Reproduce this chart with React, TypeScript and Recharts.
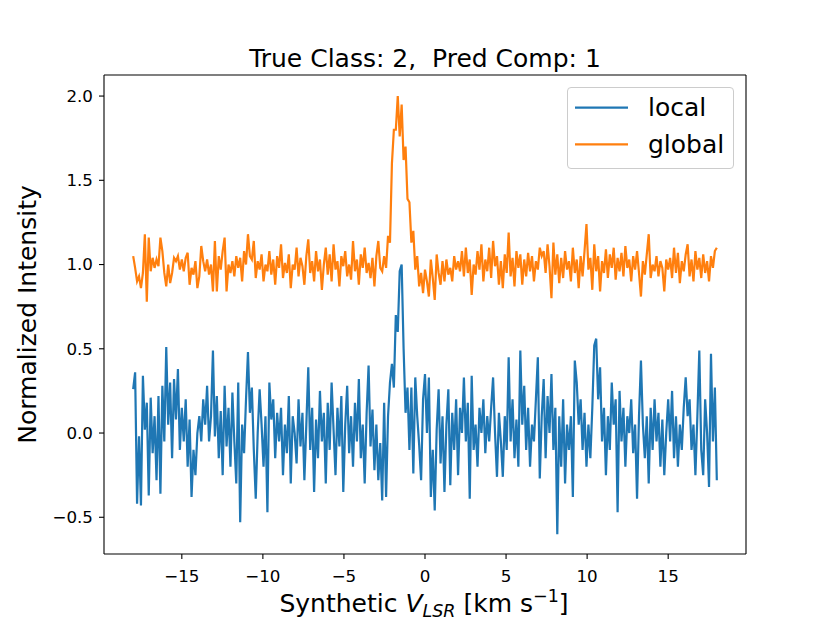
import React from "react";
import { LineChart, Line, XAxis, YAxis, Legend, ReferenceLine } from "recharts";

// channel grid of the synthetic spectrum (km/s)
const VLSR_START = -18;
const CHANNEL_WIDTH = 0.12;

// "local" spectrum (one row = 25 channels = 3 km/s)
const LOCAL = [
  0.26, 0.36, -0.42, -0.02, -0.43, 0.34, 0.02, 0.18, -0.37, 0.21, -0.12, 0.1, -0.28, 0.22, -0.36, 0.28, -0.05, 0.51, 0.05, 0.3, -0.15, 0.32, 0.08, 0.38, -0.1,
  0.15, -0.05, 0.2, -0.2, 0.08, -0.38, -0.1, -0.25, 0.0, 0.1, -0.05, 0.2, 0.05, 0.28, -0.05, 0.1, 0.49, -0.02, 0.22, -0.15, 0.13, -0.25, 0.28, -0.08, 0.15,
  -0.2, 0.24, -0.05, -0.3, 0.3, -0.53, 0.05, -0.12, 0.2, 0.48, 0.12, 0.27, -0.1, -0.39, 0.0, 0.26, 0.05, -0.2, 0.1, -0.47, 0.3, 0.08, 0.2, -0.15, 0.12,
  -0.05, 0.15, -0.25, 0.05, -0.12, 0.22, -0.3, 0.1, 0.0, -0.18, 0.2, -0.08, 0.12, -0.28, 0.05, 0.39, -0.1, 0.15, -0.35, 0.08, -0.15, 0.25, -0.05, 0.12, -0.3,
  0.18, -0.1, 0.3, 0.02, -0.25, 0.15, -0.08, 0.22, -0.35, 0.05, 0.28, -0.12, 0.1, -0.2, 0.18, -0.05, 0.32, -0.15, 0.05, -0.3, 0.12, 0.4, -0.08, 0.14, -0.22,
  0.05, -0.28, -0.06, -0.4, 0.18, -0.38, 0.1, 0.3, 0.41, 0.27, 0.7, 0.6, 0.96, 1.0, 0.5, 0.12, 0.27, -0.1, 0.27, -0.24, 0.33, 0.1, -0.07, -0.28, 0.2,
  0.35, 0.0, 0.33, -0.38, -0.1, -0.46, 0.02, 0.26, -0.18, 0.1, -0.35, 0.05, 0.26, -0.31, 0.12, -0.1, 0.2, -0.25, 0.15, 0.0, 0.33, -0.05, 0.18, -0.39, 0.34,
  -0.1, 0.05, -0.2, 0.15, 0.0, 0.2, -0.12, 0.1, -0.05, 0.15, 0.33, 0.0, -0.26, 0.12, -0.05, -0.26, 0.1, -0.1, 0.45, -0.05, 0.2, -0.15, 0.08, -0.2, 0.49,
  0.05, 0.28, -0.1, 0.15, -0.2, 0.05, -0.05, 0.2, 0.45, -0.27, 0.1, 0.32, -0.15, 0.22, 0.0, 0.35, -0.1, 0.15, -0.6, 0.1, -0.2, 0.2, -0.3, 0.05, -0.1,
  0.1, -0.38, 0.43, 0.3, 0.05, 0.2, -0.1, 0.12, -0.2, 0.05, -0.15, 0.15, 0.52, 0.56, 0.2, 0.39, -0.05, 0.15, -0.25, 0.1, -0.1, 0.3, 0.05, 0.2, -0.47,
  0.25, -0.05, 0.15, -0.2, 0.1, 0.0, 0.2, -0.12, 0.05, -0.39, 0.1, 0.43, 0.05, -0.15, 0.1, -0.3, 0.15, -0.1, 0.2, -0.05, 0.12, -0.2, 0.08, -0.25, 0.0,
  0.2, -0.05, 0.25, -0.15, 0.1, -0.2, 0.05, -0.1, 0.15, 0.33, 0.1, 0.2, -0.1, 0.05, -0.25, 0.1, 0.49, -0.1, -0.25, 0.2, 0.0, -0.32, 0.47, -0.05, 0.27,
  -0.28,
];

// "global" spectrum, same channels
const GLOBAL = [
  1.05, 0.98, 0.9, 0.93, 0.86, 0.95, 1.18, 0.78, 1.16, 0.96, 1.04, 0.98, 1.03, 0.99, 1.16, 1.08, 0.95, 0.87, 1.0, 0.89, 0.95, 1.04, 1.02, 1.05, 0.97,
  1.03, 0.96, 1.04, 1.07, 0.88, 0.98, 0.94, 1.02, 0.86, 0.93, 1.11, 1.02, 0.96, 1.03, 0.94, 1.0, 0.84, 1.14, 0.84, 1.05, 0.97, 1.08, 1.16, 0.84, 1.0,
  0.95, 1.02, 0.93, 1.05, 0.98, 1.04, 0.9, 1.08, 1.0, 1.18, 1.05, 1.03, 1.14, 0.92, 1.02, 0.97, 1.06, 0.9, 1.0, 0.96, 1.08, 0.94, 1.03, 0.88, 1.05,
  0.98, 1.12, 0.92, 1.01, 0.95, 1.06, 0.86, 1.0, 0.97, 1.1, 0.93, 1.04, 0.99, 0.88, 1.05, 1.15, 0.95, 1.02, 0.9, 1.08, 0.96, 1.03, 0.85, 1.0, 1.1,
  0.94, 1.06, 0.9, 1.12, 0.97, 1.02, 0.87, 1.05, 0.99, 1.08, 0.93, 1.0, 0.91, 1.14, 0.96, 1.03, 0.88, 1.06, 0.98, 1.1, 0.95, 1.01, 0.92, 1.04, 0.87,
  1.05, 1.14, 0.98, 0.96, 1.05, 0.98, 1.17, 1.13, 1.6, 1.8, 1.8, 2.0, 1.76, 1.95, 1.62, 1.7, 1.39, 1.37, 1.13, 1.2, 0.97, 1.05, 0.87, 0.95, 0.83,
  0.97, 0.9, 0.81, 1.03, 0.92, 0.79, 1.06, 0.95, 0.88, 1.02, 0.9, 1.03, 0.94, 0.98, 0.9, 1.05, 0.97, 1.02, 0.96, 1.08, 0.93, 1.1, 0.95, 1.03, 0.82,
  1.0, 0.94, 1.08, 0.97, 1.12, 0.9, 1.03, 0.96, 1.1, 0.92, 1.14, 0.99, 1.05, 0.88, 1.02, 0.86, 1.06, 0.95, 1.19, 0.93, 1.04, 0.87, 1.08, 0.98, 1.06,
  0.88, 1.03, 0.93, 1.07, 0.96, 1.05, 0.9, 1.02, 0.97, 1.1, 1.05, 1.08, 0.95, 1.12, 0.99, 0.8, 1.13, 0.94, 1.06, 0.89, 1.04, 0.92, 1.08, 0.97, 1.02,
  0.9, 1.1, 0.95, 1.03, 0.86, 1.05, 0.93, 1.08, 1.24, 0.97, 1.04, 0.85, 1.12, 0.96, 1.05, 0.84, 1.02, 0.95, 1.09, 0.92, 1.06, 0.98, 1.1, 0.91, 1.04,
  0.96, 1.07, 0.93, 1.11, 0.98, 1.03, 0.9, 1.05, 0.97, 1.08, 0.95, 0.81, 1.02, 0.94, 1.06, 1.18, 0.92, 1.0, 0.96, 1.05, 0.93, 1.02, 0.98, 0.84, 1.03,
  0.97, 1.04, 0.92, 1.1, 0.95, 1.07, 0.89, 1.02, 0.96, 1.06, 1.12, 0.93, 1.03, 0.9, 1.08, 0.97, 1.04, 0.92, 1.06, 0.95, 1.02, 0.9, 1.05, 0.98, 1.08,
  1.1,
];

const SERIES_ORDER = ["local", "global"];
const X_TICKS = [-15, -10, -5, 0, 5, 10, 15];
const Y_TICKS = [-0.5, 0, 0.5, 1, 1.5, 2];
const X_DOMAIN: [number, number] = [-19.8, 19.8];
const Y_DOMAIN: [number, number] = [-0.718, 2.125];

const TITLE = "True Class: 2,  Pred Comp: 1";
const Y_LABEL = "Normalized Intensity";

const FONT = "DejaVu Sans";

const chartData = LOCAL.map((v, i) => ({
  vlsr: Number((VLSR_START + i * CHANNEL_WIDTH).toFixed(2)),
  local: v,
  global: GLOBAL[i],
}));

// matplotlib style minus sign
const fmt = (v: number, digits: number) =>
  (v < 0 ? "\u2212" : "") + Math.abs(v).toFixed(digits);

const LegendBox = ({ payload }: any) => {
  const items = [...(payload || [])].sort(
    (a: any, b: any) => SERIES_ORDER.indexOf(a.value) - SERIES_ORDER.indexOf(b.value)
  );
  return (
    <div
      style={{
        width: 167,
        height: 82,
        boxSizing: "border-box",
        border: "1px solid #cccccc",
        borderRadius: 4,
        background: "rgba(255,255,255,0.8)",
      }}
    >
      <svg width={165} height={80} style={{ display: "block" }}>
        {items.map((p: any, i: number) => (
          <g key={p.value}>
            <line x1={7} x2={60} y1={19.7 + i * 36.7} y2={19.7 + i * 36.7} stroke={p.color} strokeWidth={2.2} />
            <text x={80} y={28 + i * 36.7} fontSize={25} fontFamily={FONT} fill="#000">
              {p.value}
            </text>
          </g>
        ))}
      </svg>
    </div>
  );
};

const tickStyle = { fill: "#000", fontSize: 16.7, fontFamily: FONT };
const black = { stroke: "#000", strokeWidth: 1.1 };

export default function App() {
  return (
    <div style={{ position: "absolute", left: 0, top: 0, width: 830, height: 623, background: "#fff", fontFamily: FONT }}>
      <LineChart width={830} height={623} data={chartData} margin={{ top: 75, right: 84, left: 0, bottom: 0 }}>
        <XAxis
          dataKey="vlsr"
          type="number"
          domain={X_DOMAIN}
          allowDataOverflow
          ticks={X_TICKS}
          tickFormatter={(v) => fmt(v, 0)}
          tick={tickStyle}
          tickLine={black}
          axisLine={black}
          tickSize={5}
          tickMargin={11}
          height={69}
        />
        <YAxis
          type="number"
          domain={Y_DOMAIN}
          allowDataOverflow
          ticks={Y_TICKS}
          tickFormatter={(v) => fmt(v, 1)}
          tick={tickStyle}
          tickLine={black}
          axisLine={black}
          tickSize={5}
          tickMargin={6}
          width={104}
        />
        {/* top and right spines */}
        <ReferenceLine y={Y_DOMAIN[1]} stroke="#000" strokeWidth={1.1} ifOverflow="visible" />
        <ReferenceLine x={X_DOMAIN[1]} stroke="#000" strokeWidth={1.1} ifOverflow="visible" />
        <Legend
          layout="vertical"
          align="center"
          verticalAlign="middle"
          content={<LegendBox />}
          wrapperStyle={{ left: 567, top: 87, width: 167, height: 82 }}
        />
        <Line type="linear" dataKey="local" name="local" stroke="#1f77b4" strokeWidth={2.2} dot={false} activeDot={false} isAnimationActive={false} />
        <Line type="linear" dataKey="global" name="global" stroke="#ff7f0e" strokeWidth={2.2} dot={false} activeDot={false} isAnimationActive={false} />
      </LineChart>

      <svg width={830} height={623} style={{ position: "absolute", left: 0, top: 0, pointerEvents: "none" }}>
        <text x={425} y={67} textAnchor="middle" fontSize={25} fontFamily={FONT} fill="#000" style={{ whiteSpace: "pre" }}>
          {TITLE}
        </text>
        <text x={424} y={612} textAnchor="middle" fontSize={25} fontFamily={FONT} fill="#000" style={{ whiteSpace: "pre" }}>
          {"Synthetic "}
          <tspan fontStyle="italic">V</tspan>
          <tspan fontStyle="italic" fontSize={17.5} dy={5}>LSR</tspan>
          <tspan dy={-5}>{" [km s"}</tspan>
          <tspan fontSize={17.5} dy={-10}>{"\u22121"}</tspan>
          <tspan dy={10}>]</tspan>
        </text>
        <text
          transform="rotate(-90)"
          x={-314.5}
          y={36}
          textAnchor="middle"
          fontSize={25}
          fontFamily={FONT}
          fill="#000"
        >
          {Y_LABEL}
        </text>
      </svg>
    </div>
  );
}
